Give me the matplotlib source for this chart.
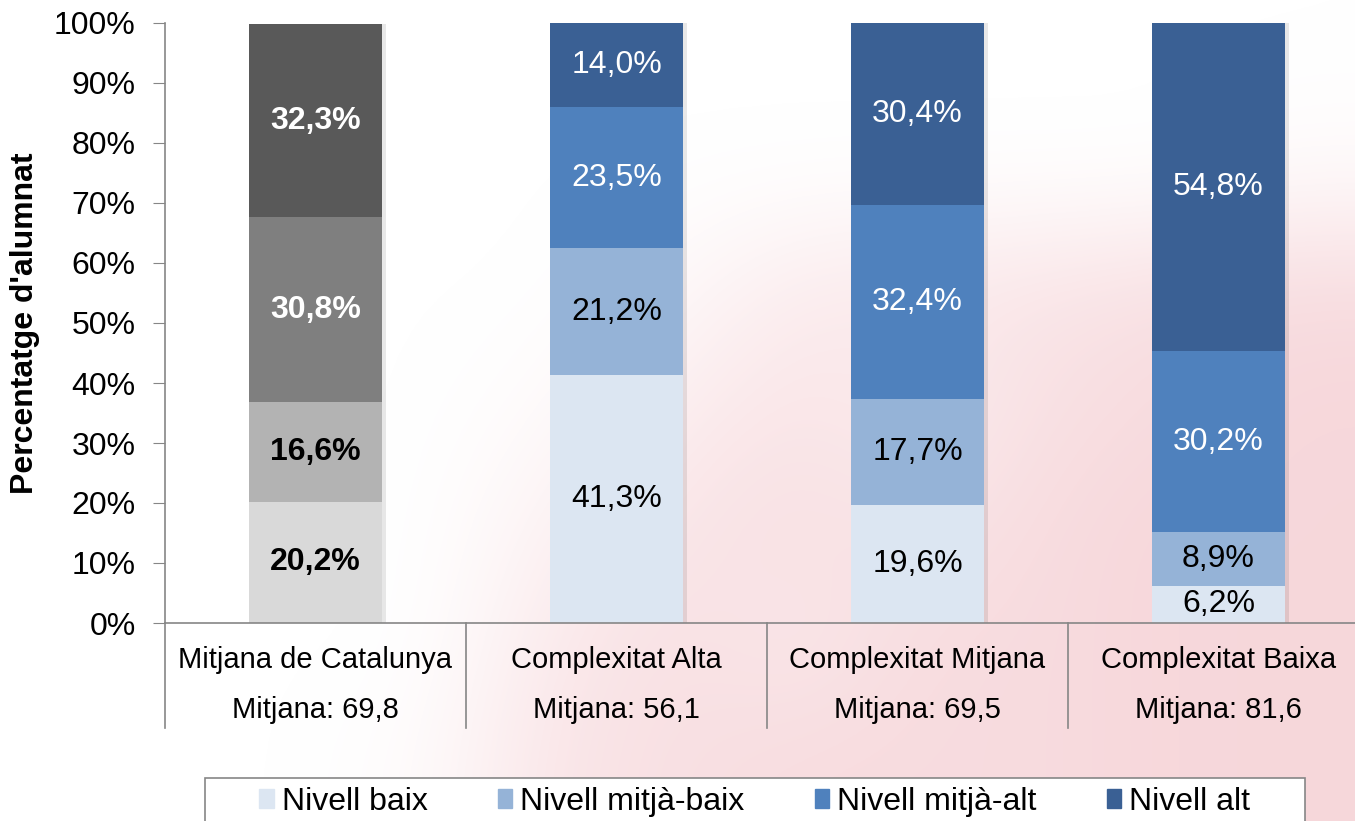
import matplotlib.pyplot as plt
import matplotlib.transforms as mtransforms
from matplotlib.patches import Rectangle
from matplotlib.colors import LinearSegmentedColormap
import numpy as np

plt.rcParams['font.family'] = ['Liberation Sans', 'DejaVu Sans']

# data
categories = ['Mitjana de Catalunya', 'Complexitat Alta', 'Complexitat Mitjana', 'Complexitat Baixa']
mitjanes = ['Mitjana: 69,8', 'Mitjana: 56,1', 'Mitjana: 69,5', 'Mitjana: 81,6']
series_names = ['Nivell baix', 'Nivell mitjà-baix', 'Nivell mitjà-alt', 'Nivell alt']
nivell_baix = [20.2, 41.3, 19.6, 6.2]
nivell_mitja_baix = [16.6, 21.2, 17.7, 8.9]
nivell_mitja_alt = [30.8, 23.5, 32.4, 30.2]
nivell_alt = [32.3, 14.0, 30.4, 54.8]

series = [nivell_baix, nivell_mitja_baix, nivell_mitja_alt, nivell_alt]
blue_colors = ['#dce6f2', '#95b3d7', '#4f81bd', '#3a6094']
gray_colors = ['#d9d9d9', '#b3b3b3', '#7f7f7f', '#595959']
label_colors = ['black', 'black', 'white', 'white']

fig = plt.figure(figsize=(13.55, 8.21), dpi=100)

# soft pink watermark behind the chart (rough hand-drawn intensity grid)
wm = np.array([
    [0, 0, 0, 0, 0, 0, 0, 0, 0, 0, 0],
    [0, 0, 0, 0, 0, 0, 0, 0, 0, 0, 0.1],
    [0, 0, 0, 0, 0, 0.15, 0.45, 0.5, 0.6, 0.7, 0.8],
    [0, 0, 0, 0, 0.1, 0.4, 0.6, 0.4, 0.7, 0.8, 0.9],
    [0, 0, 0, 0, 0.3, 0.6, 0.7, 0.6, 0.8, 0.9, 0.9],
    [0, 0, 0, 0, 0.5, 0.7, 0.5, 0.8, 0.8, 0.9, 0.9],
    [0, 0, 0, 0.1, 0.6, 0.7, 0.8, 0.8, 0.8, 0.9, 0.9],
])
bg = fig.add_axes([0, 0, 1, 1], zorder=-5)
bg.imshow(wm, cmap=LinearSegmentedColormap.from_list('wm', ['white', '#f6d3d7']),
          vmin=0, vmax=1, aspect='auto', interpolation='bicubic', extent=(0, 1, 0, 1))
bg.axis('off')

ax = fig.add_axes([165 / 1355, 198 / 821, 1204 / 1355, 600 / 821])
ax.patch.set_alpha(0)

x = np.arange(len(categories))
width = 0.44

# bar shadows
ax.bar(x + 0.014, [sum(s[i] for s in series) for i in range(4)], width,
       color='black', alpha=0.09, zorder=1)

bottom = np.zeros(len(categories))
for k, vals in enumerate(series):
    vals = np.array(vals)
    cols = [gray_colors[k]] + [blue_colors[k]] * 3
    ax.bar(x, vals, width, bottom=bottom, color=cols, zorder=2)
    for i in range(len(categories)):
        txt = f"{vals[i]:.1f}%".replace('.', ',')
        ax.text(x[i], bottom[i] + vals[i] / 2, txt, ha='center', va='center',
                fontsize=23, fontweight='bold' if i == 0 else 'normal',
                color=label_colors[k], zorder=3)
    bottom += vals

ax.set_xlim(-0.5, 3.5)
ax.set_ylim(0, 100)
ax.set_yticks(range(0, 101, 10))
ax.set_yticklabels([f'{v}%' for v in range(0, 101, 10)], fontsize=23)
ax.tick_params(axis='y', length=9, color='#868686', pad=12)
ax.set_xticks([])
for s in ['top', 'right']:
    ax.spines[s].set_visible(False)
for s in ['left', 'bottom']:
    ax.spines[s].set_color('#868686')
    ax.spines[s].set_linewidth(1.2)

ax.set_ylabel("Percentatge d'alumnat", fontsize=23, fontweight='bold', labelpad=10)

# category table under the axis
trans = mtransforms.blended_transform_factory(ax.transData, ax.transAxes)
for b in [-0.5, 0.5, 1.5, 2.5]:
    ax.plot([b, b], [0, -0.175], transform=trans, color='#868686', lw=1.2, clip_on=False)
for i in range(len(categories)):
    ax.text(x[i], -0.062, categories[i], transform=trans, ha='center', va='center', fontsize=21)
    ax.text(x[i], -0.145, mitjanes[i], transform=trans, ha='center', va='center', fontsize=21)

# legend box
fig.patches.append(Rectangle((205 / 1355, -0.05), 1100 / 1355, 0.05 + (821 - 778) / 821,
                             transform=fig.transFigure, facecolor='white',
                             edgecolor='#868686', lw=1.2))
handles = [Rectangle((0, 0), 1, 1, color=c) for c in blue_colors]
fig.legend(handles, series_names, loc='center', bbox_to_anchor=(0.557, 1 - 802 / 821),
           ncol=4, frameon=False, fontsize=23, handlelength=0.45, handleheight=0.55,
           handletextpad=0.25, columnspacing=2.2)

fig.savefig('out.png', dpi=100)
